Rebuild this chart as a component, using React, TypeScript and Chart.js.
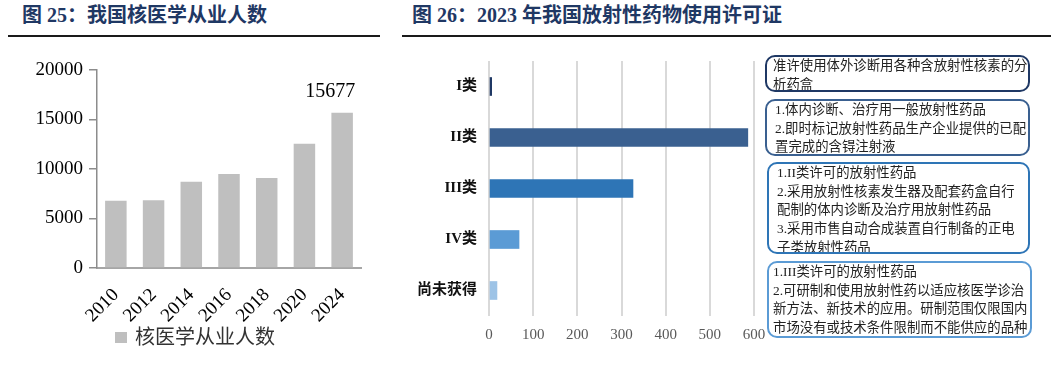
import React, { useEffect, useRef } from "react";
import { Chart, registerables } from "chart.js";

Chart.register(...registerables);

// ---------- data ----------
const years = ["2010", "2012", "2014", "2016", "2018", "2020", "2024"];
const practitioners = [6800, 6850, 8700, 9500, 9100, 12550, 15677];
const practitionerTickStep = 5000;
const practitionerMax = 20000;
const practitionerSeriesName = "核医学从业人数";

const licenseCategories = ["I类", "II类", "III类", "IV类", "尚未获得"];
const licenseCounts = [6, 586, 326, 68, 18];
const licenseTickStep = 100;
const licenseMax = 600;

const licenseNotes: string[][] = [
  ["准许使用体外诊断用各种含放射性核素的分", "析药盒"],
  ["1.体内诊断、治疗用一般放射性药品", "2.即时标记放射性药品生产企业提供的已配", "置完成的含锝注射液"],
  [
    "1.II类许可的放射性药品",
    "2.采用放射性核素发生器及配套药盒自行",
    "配制的体内诊断及治疗用放射性药品",
    "3.采用市售自动合成装置自行制备的正电",
    "子类放射性药品",
  ],
  [
    "1.III类许可的放射性药品",
    "2.可研制和使用放射性药以适应核医学诊治",
    "新方法、新技术的应用。研制范围仅限国内",
    "市场没有或技术条件限制而不能供应的品种",
  ],
];

const titleLeft = "图 25：我国核医学从业人数";
const titleRight = "图 26：2023 年我国放射性药物使用许可证";

// ---------- styles ----------
const SERIF = '"Liberation Serif", "Times New Roman", "Noto Sans CJK SC", serif';
const barsGray = "#bfbfbf";
const licenseColors = ["#1f3864", "#3a6090", "#2e75b6", "#5b9bd5", "#9dc3e6"];
const noteBorderColors = ["#1f3864", "#3a6090", "#2e75b6", "#5b9bd5"];
const noteBoxes = [
  { left: 765, top: 55, width: 265, height: 37, padLeft: 6 },
  { left: 765, top: 99, width: 265, height: 57, padLeft: 8 },
  { left: 767, top: 162, width: 263, height: 92, padLeft: 8 },
  { left: 767, top: 261, width: 265, height: 77, padLeft: 4 },
];

function LeftChart() {
  const ref = useRef<HTMLCanvasElement | null>(null);
  useEffect(() => {
    if (!ref.current) return;
    const labelPlugin = {
      id: "lastLabel",
      afterDatasetsDraw(chart: any) {
        const meta = chart.getDatasetMeta(0);
        const i = practitioners.length - 1;
        const bar = meta.data[i];
        if (!bar) return;
        const ctx = chart.ctx;
        ctx.save();
        ctx.font = `20px ${SERIF}`;
        ctx.fillStyle = "#000";
        ctx.textAlign = "center";
        ctx.textBaseline = "middle";
        ctx.fillText(String(practitioners[i]), bar.x - 12, bar.y - 21);
        ctx.restore();
      },
    };
    const chart = new Chart(ref.current, {
      type: "bar",
      data: {
        labels: years,
        datasets: [
          {
            label: practitionerSeriesName,
            data: practitioners,
            backgroundColor: barsGray,
            barPercentage: 0.57,
            categoryPercentage: 1,
          },
        ],
      },
      options: {
        responsive: false,
        animation: false,
        layout: { padding: { top: 30, right: 19, bottom: 0, left: 0 } },
        plugins: { legend: { display: false }, tooltip: { enabled: false } },
        scales: {
          x: {
            grid: { display: false, drawTicks: false },
            border: { display: true, color: "#a6a6a6", width: 2 },
            ticks: {
              maxRotation: 45,
              minRotation: 45,
              padding: 16,
              color: "#000",
              font: { family: SERIF, size: 19 },
            },
            afterFit: (s: any) => {
              s.height = 72;
            },
          },
          y: {
            min: 0,
            max: practitionerMax,
            ticks: {
              stepSize: practitionerTickStep,
              padding: 6,
              color: "#000",
              font: { family: SERIF, size: 19 },
              callback: (v: any) => String(v),
            },
            grid: {
              display: true,
              drawOnChartArea: false,
              drawTicks: true,
              tickLength: 8,
              color: "#8c8c8c",
              lineWidth: 1.5,
            },
            border: { display: true, color: "#8c8c8c", width: 1.5 },
            afterFit: (s: any) => {
              s.width = 97;
            },
          },
        },
      },
      plugins: [labelPlugin],
    } as any);
    return () => chart.destroy();
  }, []);
  return (
    <canvas
      ref={ref}
      width={380}
      height={300}
      style={{ position: "absolute", left: 0, top: 40, width: 380, height: 300 }}
    />
  );
}

function RightChart() {
  const ref = useRef<HTMLCanvasElement | null>(null);
  useEffect(() => {
    if (!ref.current) return;
    const chart = new Chart(ref.current, {
      type: "bar",
      data: {
        labels: licenseCategories,
        datasets: [
          {
            label: "许可证数量",
            data: licenseCounts,
            backgroundColor: licenseColors,
            barThickness: 18,
          },
        ],
      },
      options: {
        indexAxis: "y",
        responsive: false,
        animation: false,
        layout: { padding: { top: 17, right: 26, bottom: 0, left: 0 } },
        plugins: { legend: { display: false }, tooltip: { enabled: false } },
        scales: {
          x: {
            min: 0,
            max: licenseMax,
            ticks: {
              stepSize: licenseTickStep,
              padding: 10,
              color: "#595959",
              font: { family: SERIF, size: 15 },
            },
            grid: { color: "#d9d9d9", lineWidth: 2, drawTicks: false },
            border: { display: false },
            afterFit: (s: any) => {
              s.height = 34;
            },
          },
          y: {
            grid: { display: false, drawTicks: false },
            border: { display: false },
            ticks: {
              padding: 12,
              color: "#111",
              font: { family: SERIF, size: 15, weight: "bold" },
            },
            afterFit: (s: any) => {
              s.width = 89;
            },
          },
        },
      },
    } as any);
    return () => chart.destroy();
  }, []);
  return (
    <canvas
      ref={ref}
      width={380}
      height={310}
      style={{ position: "absolute", left: 400, top: 40, width: 380, height: 310 }}
    />
  );
}

export default function App() {
  const titleStyle: React.CSSProperties = {
    position: "absolute",
    top: 3,
    fontFamily: SERIF,
    fontWeight: "bold",
    fontSize: 20,
    lineHeight: "24px",
    color: "#1f3864",
    whiteSpace: "pre",
  };
  return (
    <div
      style={{
        position: "absolute",
        left: 0,
        top: 0,
        width: 1058,
        height: 365,
        background: "#fff",
        overflow: "hidden",
      }}
    >
      <div style={{ ...titleStyle, left: 22 }}>{titleLeft}</div>
      <div style={{ ...titleStyle, left: 412 }}>{titleRight}</div>
      <div style={{ position: "absolute", left: 8, top: 35, width: 372, height: 2, background: "#1a1a1a" }} />
      <div style={{ position: "absolute", left: 402, top: 35, width: 649, height: 2, background: "#1a1a1a" }} />

      <LeftChart />
      <div style={{ position: "absolute", left: 115, top: 332, width: 12, height: 11, background: barsGray }} />
      <div
        style={{
          position: "absolute",
          left: 135,
          top: 325,
          fontFamily: SERIF,
          fontSize: 20,
          lineHeight: "24px",
          color: "#333",
          whiteSpace: "pre",
        }}
      >
        {practitionerSeriesName}
      </div>

      <RightChart />
      {licenseNotes.map((lines, i) => {
        const b = noteBoxes[i];
        return (
          <div
            key={i}
            style={{
              position: "absolute",
              left: b.left,
              top: b.top,
              width: b.width,
              height: b.height,
              boxSizing: "border-box",
              border: `2px solid ${noteBorderColors[i]}`,
              borderRadius: 10,
              background: "#fff",
              paddingLeft: b.padLeft,
              fontFamily: SERIF,
              fontSize: 13.4,
              lineHeight: "18.7px",
              color: "#222",
              whiteSpace: "pre",
              overflow: "hidden",
            }}
          >
            {lines.map((l, j) => (
              <div key={j}>{l}</div>
            ))}
          </div>
        );
      })}
    </div>
  );
}
